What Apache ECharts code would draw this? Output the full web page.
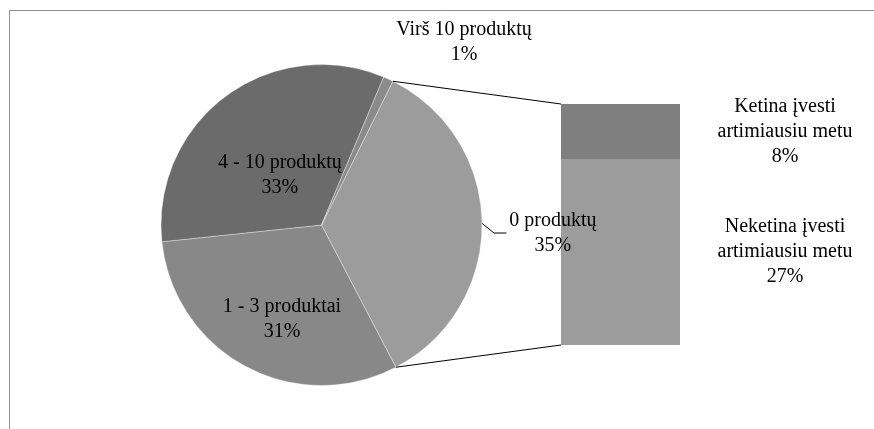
<!DOCTYPE html>
<html>
<head>
<meta charset="utf-8">
<script src="https://cdn.jsdelivr.net/npm/echarts@6/dist/echarts.min.js"></script>
<style>
  html, body { margin: 0; padding: 0; background: #fff; }
  #chart { width: 874px; height: 429px; }
</style>
</head>
<body>
<div id="chart"></div>
<script>
// Pie: number of products offered
const pieNames = ['0 produktų', '1 - 3 produktai', '4 - 10 produktų', 'Virš 10 produktų'];
const pieValues = [35, 31, 33, 1];

// Bar: breakdown of the "0 produktų" slice
const barNames = ['Neketina įvesti\nartimiausiu metu', 'Ketina įvesti\nartimiausiu metu'];
const barValues = [27, 8];

// Layout constants
const PIE_CX = 321.5, PIE_CY = 225, PIE_R = 160.5;
const START_DEG = 63.6;
const FONT = { fontFamily: 'Liberation Serif', fontSize: 20, lineHeight: 25, color: '#000' };
const pieColors = ['#9c9c9c', '#888888', '#6b6b6b', '#8b8b8b'];
const barColors = ['#9c9c9c', '#7f7f7f'];
// label centres, as fractions of the pie radius from its centre
const labelOffsets = [[1.442, 0.05], [-0.246, 0.586], [-0.259, -0.312], [0.888, -1.14]];

const total = pieValues.reduce((a, b) => a + b, 0);
const barTotal = barValues.reduce((a, b) => a + b, 0);

const chart = echarts.init(document.getElementById('chart'), null, { renderer: 'canvas' });

chart.setOption({
  animation: false,
  backgroundColor: '#fff',
  grid: { left: 561, top: 104, width: 119, height: 241 },
  xAxis: { type: 'category', data: ['0 produktų'], show: false },
  yAxis: { type: 'value', min: 0, max: barTotal, show: false },
  graphic: [{
    id: 'frame', type: 'rect', silent: true, z: 0,
    shape: { x: 9.5, y: 10.5, width: 900, height: 500 },
    style: { fill: null, stroke: '#8f8f8f', lineWidth: 1 }
  }],
  series: [
    {
      type: 'pie',
      z: 3,
      center: [PIE_CX, PIE_CY],
      radius: PIE_R,
      startAngle: START_DEG,
      clockwise: true,
      avoidLabelOverlap: false,
      percentPrecision: 0,
      itemStyle: { borderColor: 'rgba(255,255,255,0.35)', borderWidth: 1 },
      label: Object.assign({ show: true, position: 'outside', formatter: '{b}\n{d}%' }, FONT),
      labelLine: { show: false, lineStyle: { color: '#000', width: 1 } },
      labelLayout: function (p) {
        const off = labelOffsets[p.dataIndex];
        const x = PIE_CX + off[0] * PIE_R;
        const y = PIE_CY + off[1] * PIE_R;
        const res = { x: x, y: y, align: 'center', verticalAlign: 'middle' };
        if (p.dataIndex === 0) {
          const midDeg = START_DEG - 0.5 * pieValues[0] / total * 360;
          const a = midDeg * Math.PI / 180;
          const sx = PIE_CX + PIE_R * Math.cos(a);
          const sy = PIE_CY - PIE_R * Math.sin(a);
          const left = x - p.labelRect.width / 2;
          res.labelLinePoints = [[sx, sy], [sx + 12, y], [left - 3, y]];
        }
        return res;
      },
      data: pieNames.map((n, i) => ({
        name: n,
        value: pieValues[i],
        itemStyle: { color: pieColors[i] },
        labelLine: { show: i === 0 }
      }))
    }
  ].concat(barNames.map((n, i) => ({
    type: 'bar',
    name: n,
    z: 1,
    stack: 'split',
    barWidth: '100%',
    data: [barValues[i]],
    itemStyle: { color: barColors[i] },
    label: Object.assign({
      show: true, position: 'right', distance: 105, align: 'center',
      formatter: '{a}\n{c}%'
    }, FONT)
  })))
});

// Connector lines from the split slice to the bar corners
(function () {
  const layout = chart.getModel().getSeriesByIndex(0).getData().getItemLayout(0);
  const rect = chart.getModel().getComponent('grid', 0).coordinateSystem.getRect();
  const p1 = [layout.cx + layout.r * Math.cos(layout.startAngle), layout.cy + layout.r * Math.sin(layout.startAngle)];
  const p2 = [layout.cx + layout.r * Math.cos(layout.endAngle), layout.cy + layout.r * Math.sin(layout.endAngle)];
  chart.setOption({
    graphic: [
      { id: 'c1', type: 'line', silent: true, z: 5,
        shape: { x1: p1[0], y1: p1[1], x2: rect.x, y2: rect.y },
        style: { stroke: '#000', lineWidth: 1 } },
      { id: 'c2', type: 'line', silent: true, z: 5,
        shape: { x1: p2[0], y1: p2[1], x2: rect.x, y2: rect.y + rect.height },
        style: { stroke: '#000', lineWidth: 1 } }
    ]
  });
})();
</script>
</body>
</html>
